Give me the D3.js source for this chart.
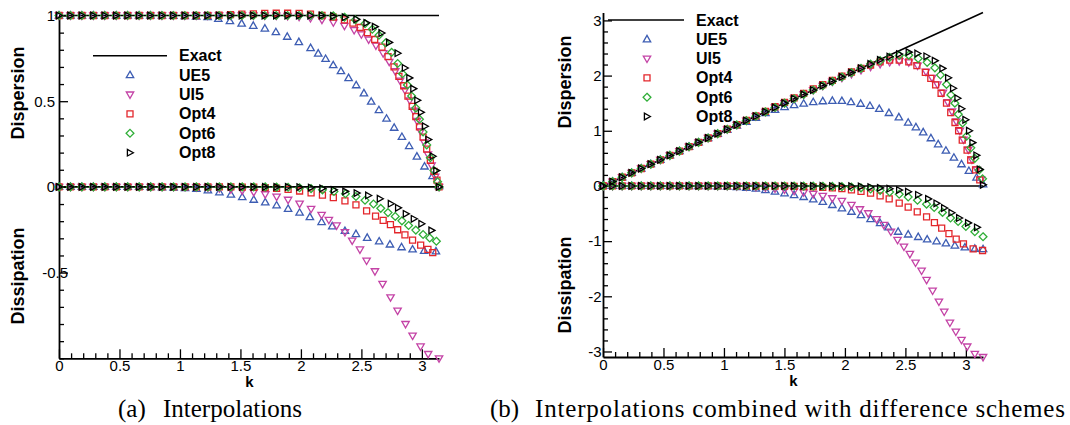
<!DOCTYPE html>
<html>
<head>
<meta charset="utf-8">
<script src="https://cdn.jsdelivr.net/npm/d3@7"></script>
<style>
  body { margin: 0; background: #fff; }
  svg { display: block; }
</style>
</head>
<body>
<svg id="fig" width="1070" height="425"></svg>
<script>
// ---------------- data ----------------
const seriesNames = ["UE5", "UI5", "Opt4", "Opt6", "Opt8"];
const xTickValues = [0, 0.5, 1, 1.5, 2, 2.5, 3];
const yTicksA = [1, 0.5, 0, -0.5];
const yTicksB = [3, 2, 1, 0, -1, -2, -3];
const captionA = ["(a)", "Interpolations"];
const captionB = ["(b)", "Interpolations combined with difference schemes"];

// exact responses
const exactDispA = [[0, 1], [3.1416, 1]];
const exactDissA = [[0, 0], [3.1416, 0]];
const exactDispB = [[0, 0], [3.1416, 3.1416]];
const exactDissB = [[0, 0], [3.1416, 0]];

// (a) interpolations: dispersion
const aDispUE5 = [[0,1],[0.095,1],[0.189,1],[0.284,1],[0.378,1],[0.473,1],[0.567,1],[0.662,1],[0.756,1],[0.851,0.999],[0.945,0.998],[1.04,0.996],[1.134,0.994],[1.229,0.99],[1.317,0.98],[1.413,0.967],[1.51,0.953],[1.606,0.94],[1.702,0.924],[1.793,0.903],[1.887,0.876],[1.983,0.845],[2.08,0.81],[2.143,0.778],[2.204,0.747],[2.267,0.71],[2.331,0.675],[2.394,0.635],[2.457,0.593],[2.521,0.546],[2.581,0.497],[2.645,0.448],[2.708,0.398],[2.771,0.345],[2.835,0.292],[2.895,0.238],[2.959,0.177],[3.022,0.119],[3.088,0.063],[3.142,0.005]];
const aDispUI5 = [[0,1],[0.095,1],[0.189,1],[0.284,1],[0.378,1],[0.473,1],[0.567,1],[0.662,1],[0.756,1],[0.851,1],[0.945,1],[1.04,1],[1.134,1],[1.229,1],[1.323,1],[1.418,1],[1.512,1],[1.607,1],[1.701,1],[1.796,0.999],[1.89,0.997],[1.985,0.993],[2.079,0.985],[2.174,0.975],[2.268,0.96],[2.36,0.94],[2.44,0.915],[2.5,0.89],[2.56,0.86],[2.62,0.825],[2.68,0.78],[2.73,0.73],[2.78,0.675],[2.82,0.62],[2.86,0.565],[2.9,0.505],[2.93,0.445],[2.96,0.385],[2.99,0.325],[3.02,0.26],[3.05,0.19],[3.08,0.125],[3.11,0.06],[3.142,0]];
const aDispOpt4 = [[0,1],[0.095,1],[0.189,1],[0.284,1],[0.378,1],[0.473,1],[0.567,1],[0.662,1],[0.756,1],[0.851,1],[0.945,1],[1.04,1],[1.134,1],[1.229,1.001],[1.323,1.002],[1.418,1.005],[1.512,1.008],[1.607,1.01],[1.701,1.012],[1.796,1.013],[1.89,1.013],[1.985,1.012],[2.079,1.008],[2.174,1],[2.268,0.99],[2.36,0.975],[2.43,0.955],[2.49,0.93],[2.55,0.9],[2.61,0.86],[2.67,0.815],[2.72,0.76],[2.77,0.7],[2.81,0.645],[2.85,0.59],[2.885,0.53],[2.92,0.47],[2.95,0.41],[2.98,0.35],[3.01,0.29],[3.04,0.22],[3.07,0.155],[3.1,0.09],[3.125,0.04],[3.142,0]];
const aDispOpt6 = [[0,1],[0.095,1],[0.189,1],[0.284,1],[0.378,1],[0.473,1],[0.567,1],[0.662,1],[0.756,1],[0.851,1],[0.945,1],[1.04,1],[1.134,1],[1.229,1],[1.323,1],[1.418,1],[1.512,1],[1.607,1],[1.701,1],[1.796,1],[1.89,1],[1.985,1],[2.079,1],[2.174,1],[2.268,0.998],[2.36,0.99],[2.45,0.975],[2.53,0.952],[2.59,0.92],[2.645,0.885],[2.7,0.84],[2.75,0.785],[2.8,0.72],[2.84,0.66],[2.88,0.595],[2.915,0.53],[2.95,0.46],[2.98,0.395],[3.01,0.32],[3.04,0.245],[3.07,0.17],[3.1,0.095],[3.13,0.03],[3.142,0]];
const aDispOpt8 = [[0,1],[0.095,1],[0.189,1],[0.284,1],[0.378,1],[0.473,1],[0.567,1],[0.662,1],[0.756,1],[0.851,1],[0.945,1],[1.04,1],[1.134,1],[1.229,1],[1.323,1],[1.418,1],[1.512,1],[1.607,1],[1.701,1],[1.796,1],[1.89,1],[1.985,1],[2.079,1],[2.174,1],[2.268,0.997],[2.364,0.99],[2.46,0.978],[2.543,0.957],[2.612,0.935],[2.667,0.898],[2.73,0.843],[2.8,0.78],[2.86,0.694],[2.897,0.636],[2.93,0.573],[2.963,0.505],[2.993,0.435],[3.026,0.354],[3.054,0.276],[3.09,0.179],[3.12,0.095],[3.142,0]];

// (a) interpolations: dissipation
const aDissUE5 = [[0,0],[0.095,0],[0.189,0],[0.284,0],[0.379,0],[0.474,0],[0.568,0],[0.663,0],[0.758,-0.001],[0.852,-0.002],[0.947,-0.004],[1.042,-0.007],[1.136,-0.011],[1.231,-0.02],[1.326,-0.032],[1.421,-0.045],[1.515,-0.06],[1.61,-0.075],[1.705,-0.09],[1.799,-0.108],[1.894,-0.128],[1.989,-0.15],[2.074,-0.176],[2.171,-0.205],[2.259,-0.23],[2.364,-0.257],[2.455,-0.275],[2.548,-0.297],[2.647,-0.318],[2.736,-0.336],[2.832,-0.352],[2.923,-0.365],[3.019,-0.373],[3.116,-0.376]];
const aDissUI5 = [[0,0],[0.095,0],[0.189,0],[0.284,0],[0.379,0],[0.474,0],[0.568,0],[0.663,0],[0.758,0],[0.852,0],[0.947,0],[1.042,0],[1.136,-0.002],[1.231,-0.004],[1.326,-0.008],[1.421,-0.014],[1.515,-0.021],[1.61,-0.03],[1.705,-0.043],[1.799,-0.057],[1.894,-0.075],[1.989,-0.098],[2.084,-0.128],[2.171,-0.163],[2.231,-0.192],[2.295,-0.225],[2.364,-0.264],[2.424,-0.313],[2.488,-0.365],[2.543,-0.43],[2.612,-0.492],[2.675,-0.566],[2.741,-0.644],[2.799,-0.722],[2.865,-0.8],[2.923,-0.868],[2.989,-0.931],[3.052,-0.975],[3.142,-1.0]];
const aDissOpt4 = [[0,0],[0.095,0],[0.189,0],[0.284,0],[0.379,0],[0.474,0],[0.568,0],[0.663,0],[0.758,0],[0.852,0],[0.947,0],[1.042,0],[1.136,0],[1.231,0],[1.326,0],[1.421,0],[1.515,-0.001],[1.61,-0.002],[1.705,-0.004],[1.799,-0.008],[1.894,-0.015],[1.989,-0.024],[2.084,-0.035],[2.178,-0.048],[2.268,-0.062],[2.364,-0.082],[2.455,-0.105],[2.543,-0.14],[2.617,-0.17],[2.68,-0.195],[2.74,-0.22],[2.8,-0.25],[2.86,-0.28],[2.923,-0.31],[2.99,-0.34],[3.05,-0.365],[3.09,-0.383]];
const aDissOpt6 = [[0,0],[0.095,0],[0.189,0],[0.284,0],[0.379,0],[0.474,0],[0.568,0],[0.663,0],[0.758,0],[0.852,0],[0.947,0],[1.042,0],[1.136,0],[1.231,0],[1.326,0],[1.421,0],[1.515,0],[1.61,0],[1.705,0],[1.799,-0.001],[1.894,-0.002],[1.989,-0.005],[2.084,-0.01],[2.178,-0.017],[2.273,-0.027],[2.368,-0.04],[2.455,-0.056],[2.53,-0.078],[2.6,-0.1],[2.66,-0.125],[2.72,-0.15],[2.78,-0.172],[2.835,-0.198],[2.89,-0.225],[2.95,-0.252],[3.01,-0.278],[3.065,-0.298],[3.12,-0.317]];
const aDissOpt8 = [[0,0],[0.095,0],[0.189,0],[0.284,0],[0.379,0],[0.474,0],[0.568,0],[0.663,0],[0.758,0],[0.852,0],[0.947,0],[1.042,0],[1.136,0],[1.231,0],[1.326,0],[1.421,0],[1.515,0],[1.61,0],[1.705,0],[1.799,0],[1.894,0],[1.989,-0.001],[2.084,-0.004],[2.178,-0.009],[2.273,-0.017],[2.368,-0.026],[2.462,-0.036],[2.557,-0.05],[2.653,-0.069],[2.744,-0.098],[2.804,-0.122],[2.868,-0.157],[2.934,-0.186],[2.997,-0.215],[3.08,-0.254]];

// (b) interpolations combined with difference schemes: dispersion
const bDispUE5 = [[0,0],[0.079,0.079],[0.158,0.158],[0.237,0.237],[0.316,0.316],[0.395,0.395],[0.474,0.474],[0.553,0.553],[0.632,0.632],[0.711,0.71],[0.79,0.789],[0.869,0.866],[0.948,0.943],[1.027,1.018],[1.106,1.092],[1.185,1.163],[1.264,1.235],[1.343,1.32],[1.422,1.38],[1.501,1.43],[1.58,1.465],[1.659,1.492],[1.738,1.518],[1.817,1.535],[1.896,1.543],[1.975,1.54],[2.05,1.52],[2.13,1.49],[2.207,1.45],[2.284,1.395],[2.364,1.322],[2.446,1.244],[2.523,1.147],[2.587,1.063],[2.647,0.972],[2.711,0.864],[2.771,0.755],[2.835,0.64],[2.901,0.513],[2.964,0.393],[3.025,0.272],[3.088,0.151],[3.142,0.03]];
const bDispUI5 = [[0,0],[0.079,0.079],[0.158,0.158],[0.237,0.237],[0.316,0.316],[0.395,0.395],[0.474,0.474],[0.553,0.553],[0.632,0.632],[0.711,0.711],[0.79,0.79],[0.869,0.869],[0.948,0.948],[1.027,1.027],[1.106,1.106],[1.185,1.185],[1.264,1.264],[1.343,1.343],[1.422,1.422],[1.501,1.501],[1.58,1.58],[1.659,1.659],[1.738,1.737],[1.817,1.814],[1.896,1.89],[1.975,1.96],[2.054,2.03],[2.133,2.1],[2.212,2.16],[2.291,2.21],[2.37,2.245],[2.449,2.26],[2.528,2.24],[2.6,2.18],[2.67,2.07],[2.72,1.96],[2.765,1.84],[2.81,1.69],[2.85,1.52],[2.885,1.35],[2.92,1.17],[2.95,1.0],[2.98,0.84],[3.02,0.66],[3.05,0.48],[3.09,0.3],[3.125,0.12]];
const bDispOpt4 = [[0,0],[0.079,0.079],[0.158,0.158],[0.237,0.237],[0.316,0.316],[0.395,0.395],[0.474,0.474],[0.553,0.553],[0.632,0.632],[0.711,0.711],[0.79,0.79],[0.869,0.869],[0.948,0.948],[1.027,1.029],[1.106,1.109],[1.185,1.19],[1.264,1.27],[1.343,1.35],[1.422,1.435],[1.501,1.515],[1.58,1.595],[1.659,1.678],[1.738,1.758],[1.817,1.838],[1.896,1.915],[1.975,1.99],[2.054,2.065],[2.133,2.13],[2.212,2.19],[2.291,2.25],[2.37,2.28],[2.449,2.28],[2.528,2.25],[2.595,2.18],[2.665,2.06],[2.71,1.95],[2.75,1.83],[2.795,1.68],[2.84,1.5],[2.875,1.33],[2.91,1.15],[2.94,1.0],[2.97,0.83],[3.01,0.65],[3.04,0.47],[3.08,0.29],[3.115,0.11]];
const bDispOpt6 = [[0,0],[0.079,0.079],[0.158,0.158],[0.237,0.237],[0.316,0.316],[0.395,0.395],[0.474,0.474],[0.553,0.553],[0.632,0.632],[0.711,0.711],[0.79,0.79],[0.869,0.869],[0.948,0.948],[1.027,1.027],[1.106,1.106],[1.185,1.185],[1.264,1.264],[1.343,1.343],[1.422,1.422],[1.501,1.501],[1.58,1.58],[1.659,1.659],[1.738,1.738],[1.817,1.817],[1.896,1.896],[1.975,1.975],[2.054,2.054],[2.133,2.132],[2.212,2.208],[2.291,2.27],[2.37,2.33],[2.449,2.365],[2.528,2.37],[2.606,2.31],[2.68,2.24],[2.744,2.14],[2.79,2.01],[2.84,1.84],[2.876,1.65],[2.909,1.5],[2.937,1.3],[2.973,1.14],[3.006,0.9],[3.041,0.69],[3.074,0.5],[3.11,0.29],[3.138,0.13]];
const bDispOpt8 = [[0,0],[0.079,0.079],[0.158,0.158],[0.237,0.237],[0.316,0.316],[0.395,0.395],[0.474,0.474],[0.553,0.553],[0.632,0.632],[0.711,0.711],[0.79,0.79],[0.869,0.869],[0.948,0.948],[1.027,1.027],[1.106,1.106],[1.185,1.185],[1.264,1.264],[1.343,1.343],[1.422,1.422],[1.501,1.501],[1.58,1.58],[1.659,1.659],[1.738,1.738],[1.817,1.817],[1.896,1.896],[1.975,1.975],[2.054,2.054],[2.133,2.133],[2.212,2.21],[2.291,2.285],[2.37,2.345],[2.449,2.39],[2.528,2.425],[2.6,2.4],[2.675,2.35],[2.744,2.27],[2.807,2.13],[2.854,1.96],[2.895,1.77],[2.931,1.59],[2.964,1.4],[2.997,1.2],[3.027,1.0],[3.055,0.785],[3.088,0.555],[3.116,0.3],[3.142,0.02]];

// (b) interpolations combined with difference schemes: dissipation
const bDissUE5 = [[0,0],[0.079,0],[0.158,0],[0.237,0],[0.316,0],[0.395,0],[0.474,0],[0.553,0],[0.632,0],[0.711,-0.001],[0.79,-0.002],[0.869,-0.004],[0.948,-0.007],[1.027,-0.012],[1.106,-0.02],[1.185,-0.033],[1.264,-0.05],[1.343,-0.075],[1.422,-0.103],[1.501,-0.133],[1.58,-0.165],[1.659,-0.2],[1.738,-0.243],[1.817,-0.29],[1.896,-0.345],[1.975,-0.405],[2.054,-0.468],[2.133,-0.53],[2.212,-0.6],[2.291,-0.675],[2.36,-0.75],[2.44,-0.83],[2.523,-0.88],[2.606,-0.925],[2.68,-0.97],[2.758,-1.005],[2.835,-1.04],[2.909,-1.08],[2.992,-1.115],[3.074,-1.138],[3.142,-1.145]];
const bDissUI5 = [[0,0],[0.079,0],[0.158,0],[0.237,0],[0.316,0],[0.395,0],[0.474,0],[0.553,0],[0.632,0],[0.711,0],[0.79,0],[0.869,0],[0.948,-0.001],[1.027,-0.002],[1.106,-0.005],[1.185,-0.01],[1.264,-0.018],[1.343,-0.028],[1.422,-0.045],[1.501,-0.065],[1.58,-0.088],[1.659,-0.115],[1.738,-0.145],[1.817,-0.181],[1.896,-0.223],[1.975,-0.27],[2.054,-0.344],[2.124,-0.422],[2.193,-0.495],[2.262,-0.603],[2.322,-0.707],[2.38,-0.828],[2.435,-0.978],[2.488,-1.099],[2.537,-1.232],[2.584,-1.389],[2.634,-1.534],[2.675,-1.703],[2.725,-1.897],[2.777,-2.096],[2.821,-2.277],[2.868,-2.476],[2.917,-2.64],[2.964,-2.79],[3.011,-2.91],[3.074,-3.043],[3.142,-3.1]];
const bDissOpt4 = [[0,0],[0.079,0],[0.158,0],[0.237,0],[0.316,0],[0.395,0],[0.474,0],[0.553,0],[0.632,0],[0.711,0],[0.79,0],[0.869,0],[0.948,0],[1.027,0],[1.106,0],[1.185,0],[1.264,-0.001],[1.343,-0.002],[1.422,-0.003],[1.501,-0.005],[1.58,-0.008],[1.659,-0.012],[1.738,-0.017],[1.817,-0.025],[1.896,-0.035],[1.975,-0.05],[2.054,-0.07],[2.133,-0.1],[2.212,-0.13],[2.291,-0.18],[2.366,-0.235],[2.449,-0.31],[2.523,-0.385],[2.598,-0.47],[2.675,-0.56],[2.74,-0.665],[2.8,-0.765],[2.86,-0.865],[2.92,-0.965],[2.98,-1.05],[3.06,-1.14],[3.138,-1.17]];
const bDissOpt6 = [[0,0],[0.079,0],[0.158,0],[0.237,0],[0.316,0],[0.395,0],[0.474,0],[0.553,0],[0.632,0],[0.711,0],[0.79,0],[0.869,0],[0.948,0],[1.027,0],[1.106,0],[1.185,0],[1.264,0],[1.343,0],[1.422,0],[1.501,-0.001],[1.58,-0.001],[1.659,-0.002],[1.738,-0.003],[1.817,-0.005],[1.896,-0.008],[1.975,-0.012],[2.054,-0.02],[2.133,-0.035],[2.212,-0.055],[2.291,-0.08],[2.37,-0.11],[2.449,-0.15],[2.523,-0.2],[2.6,-0.26],[2.675,-0.33],[2.738,-0.39],[2.807,-0.48],[2.873,-0.58],[2.936,-0.645],[3.0,-0.735],[3.074,-0.83],[3.142,-0.92]];
const bDissOpt8 = [[0,0],[0.079,0],[0.158,0],[0.237,0],[0.316,0],[0.395,0],[0.474,0],[0.553,0],[0.632,0],[0.711,0],[0.79,0],[0.869,0],[0.948,0],[1.027,0],[1.106,0],[1.185,0],[1.264,0],[1.343,0],[1.422,0],[1.501,0],[1.58,0],[1.659,0],[1.738,0],[1.817,-0.001],[1.896,-0.002],[1.975,-0.003],[2.054,-0.005],[2.133,-0.01],[2.212,-0.02],[2.291,-0.035],[2.37,-0.05],[2.449,-0.075],[2.523,-0.105],[2.606,-0.16],[2.689,-0.235],[2.758,-0.315],[2.821,-0.4],[2.882,-0.485],[2.945,-0.58],[3.019,-0.67],[3.093,-0.75]];

// ---------------- styling ----------------
const colors = { UE5: "#3d5db3", UI5: "#c443a6", Opt4: "#e3262b", Opt6: "#2fae37", Opt8: "#000000" };
const shapes = {
  UE5:  "M0,-3.9L3.7,2.5L-3.7,2.5Z",      // delta
  UI5:  "M0,3.9L3.7,-2.5L-3.7,-2.5Z",     // gradient
  Opt4: "M-3,-3H3V3H-3Z",                 // square
  Opt6: "M0,-3.9L3.9,0L0,3.9L-3.9,0Z",    // diamond
  Opt8: "M3.4,0L-2.6,-3.3L-2.6,3.3Z"      // right-pointing triangle
};
const SANS = "'Liberation Sans', Arial, Helvetica, sans-serif";
const SERIF = "'Liberation Serif', 'Times New Roman', serif";

const svg = d3.select("#fig");

function fmt(d) { return String(d); }

function drawPanel(p) {
  const x = d3.scaleLinear().domain([0, Math.PI]).range([p.x0, p.x1]);
  const y = d3.scaleLinear().domain(p.yDomain).range([p.yBottom, p.yTop]);
  const g = svg.append("g");

  // minor ticks
  const xMinor = d3.range(0, 31).map(i => +(i * 0.1).toFixed(1)).filter(v => xTickValues.indexOf(v) < 0);
  const yMinor = d3.range(Math.ceil(p.yDomain[0] / p.yMinorStep - 1e-6), Math.floor(p.yDomain[1] / p.yMinorStep + 1e-6) + 1)
      .map(i => +(i * p.yMinorStep).toFixed(2)).filter(v => p.yTicks.indexOf(v) < 0);

  g.append("g").attr("transform", `translate(0,${p.yBottom})`)
    .call(d3.axisBottom(x).tickValues(xMinor).tickSize(-5).tickSizeOuter(0).tickFormat(""))
    .call(s => s.select(".domain").remove());
  g.append("g").attr("transform", `translate(${p.x0},0)`)
    .call(d3.axisLeft(y).tickValues(yMinor).tickSize(-5).tickSizeOuter(0).tickFormat(""))
    .call(s => s.select(".domain").remove());

  const xAxis = g.append("g").attr("transform", `translate(0,${p.yBottom})`)
    .call(d3.axisBottom(x).tickValues(xTickValues).tickSize(-9).tickSizeOuter(0).tickPadding(2.5).tickFormat(fmt));
  const yAxis = g.append("g").attr("transform", `translate(${p.x0},0)`)
    .call(d3.axisLeft(y).tickValues(p.yTicks).tickSize(-9).tickSizeOuter(0).tickPadding(p.labelPad).tickFormat(fmt));

  g.selectAll(".tick line").attr("stroke", "#000").attr("stroke-width", 1.3);
  [xAxis, yAxis].forEach(a => {
    a.attr("font-family", SANS).attr("font-size", 15);
    a.select(".domain").attr("stroke", "#000").attr("stroke-width", 1.8);
    a.selectAll("text").attr("fill", "#000");
  });
  if (p.negLabelShift) {
    yAxis.selectAll(".tick text").filter(d => d < 0).attr("dx", p.negLabelShift);
  }

  // axis titles
  g.append("text").attr("x", x(1.5) + 9).attr("y", p.yBottom + 29)
    .attr("font-family", SANS).attr("font-size", 15).attr("font-weight", "bold")
    .attr("text-anchor", "middle").text("k");
  [["Dispersion", p.dispTitleY], ["Dissipation", p.dissTitleY]].forEach(([t, cy]) => {
    g.append("text")
      .attr("transform", `translate(${p.titleX},${cy}) rotate(-90)`)
      .attr("font-family", SANS).attr("font-size", 18).attr("font-weight", "bold")
      .attr("text-anchor", "middle").attr("dominant-baseline", "central").text(t);
  });

  // exact curves
  const line = d3.line().x(d => x(d[0])).y(d => y(d[1]));
  [p.exactDisp, p.exactDiss].forEach(e => {
    g.append("path").attr("d", line(e)).attr("fill", "none")
      .attr("stroke", "#000").attr("stroke-width", 1.6);
  });

  // symbols (Opt8 drawn last, on top)
  seriesNames.forEach((name, i) => {
    const pts = p.disp[i].concat(p.diss[i]);
    g.append("g").selectAll("path").data(pts).join("path")
      .attr("d", shapes[name])
      .attr("transform", d => `translate(${x(d[0])},${y(d[1])})`)
      .attr("fill", "none").attr("stroke", colors[name]).attr("stroke-width", 1.3);
  });

  // legend
  const lg = g.append("g").attr("font-family", SANS).attr("font-size", 16).attr("font-weight", "bold");
  lg.append("line").attr("x1", p.legLine[0]).attr("x2", p.legLine[1])
    .attr("y1", p.legY).attr("y2", p.legY).attr("stroke", "#000").attr("stroke-width", 1.6);
  const labels = ["Exact"].concat(seriesNames);
  labels.forEach((t, i) => {
    const cy = p.legY + i * p.legStep;
    lg.append("text").attr("x", p.legTextX).attr("y", cy).attr("dominant-baseline", "central").text(t);
    if (i > 0) {
      lg.append("path").attr("d", shapes[t]).attr("transform", `translate(${p.legSymX},${cy})`)
        .attr("fill", "none").attr("stroke", colors[t]).attr("stroke-width", 1.3);
    }
  });

  // caption
  const cap = g.append("text").attr("y", 417).attr("font-family", SERIF).attr("font-size", 25).attr("fill", "#000");
  cap.append("tspan").attr("x", p.capX[0]).text(p.caption[0]);
  const body = cap.append("tspan").attr("x", p.capX[1]).text(p.caption[1]);
  if (p.capWidth) body.attr("textLength", p.capWidth).attr("lengthAdjust", "spacing");
}

drawPanel({
  x0: 59, x1: 439, yDomain: [-1, 1], yTop: 15.5, yBottom: 358.3,
  yTicks: yTicksA, yMinorStep: 0.1, labelPad: 4, negLabelShift: 13,
  titleX: 18, dispTitleY: 93, dissTitleY: 276,
  exactDisp: exactDispA, exactDiss: exactDissA,
  disp: [aDispUE5, aDispUI5, aDispOpt4, aDispOpt6, aDispOpt8],
  diss: [aDissUE5, aDissUI5, aDissOpt4, aDissOpt6, aDissOpt8],
  legLine: [93, 167], legY: 55.7, legStep: 19.4, legTextX: 179, legSymX: 130,
  caption: captionA, capX: [118, 163], capWidth: 0
});

drawPanel({
  x0: 603, x1: 983, yDomain: [-3.1, 3.1416], yTop: 12.6, yBottom: 357,
  yTicks: yTicksB, yMinorStep: 0.2, labelPad: 1.5, negLabelShift: 0,
  titleX: 565, dispTitleY: 82, dissTitleY: 285,
  exactDisp: exactDispB, exactDiss: exactDissB,
  disp: [bDispUE5, bDispUI5, bDispOpt4, bDispOpt6, bDispOpt8],
  diss: [bDissUE5, bDissUI5, bDissOpt4, bDissOpt6, bDissOpt8],
  legLine: [608, 684], legY: 20, legStep: 19.3, legTextX: 696, legSymX: 647,
  caption: captionB, capX: [490, 535], capWidth: 530
});
</script>
</body>
</html>
